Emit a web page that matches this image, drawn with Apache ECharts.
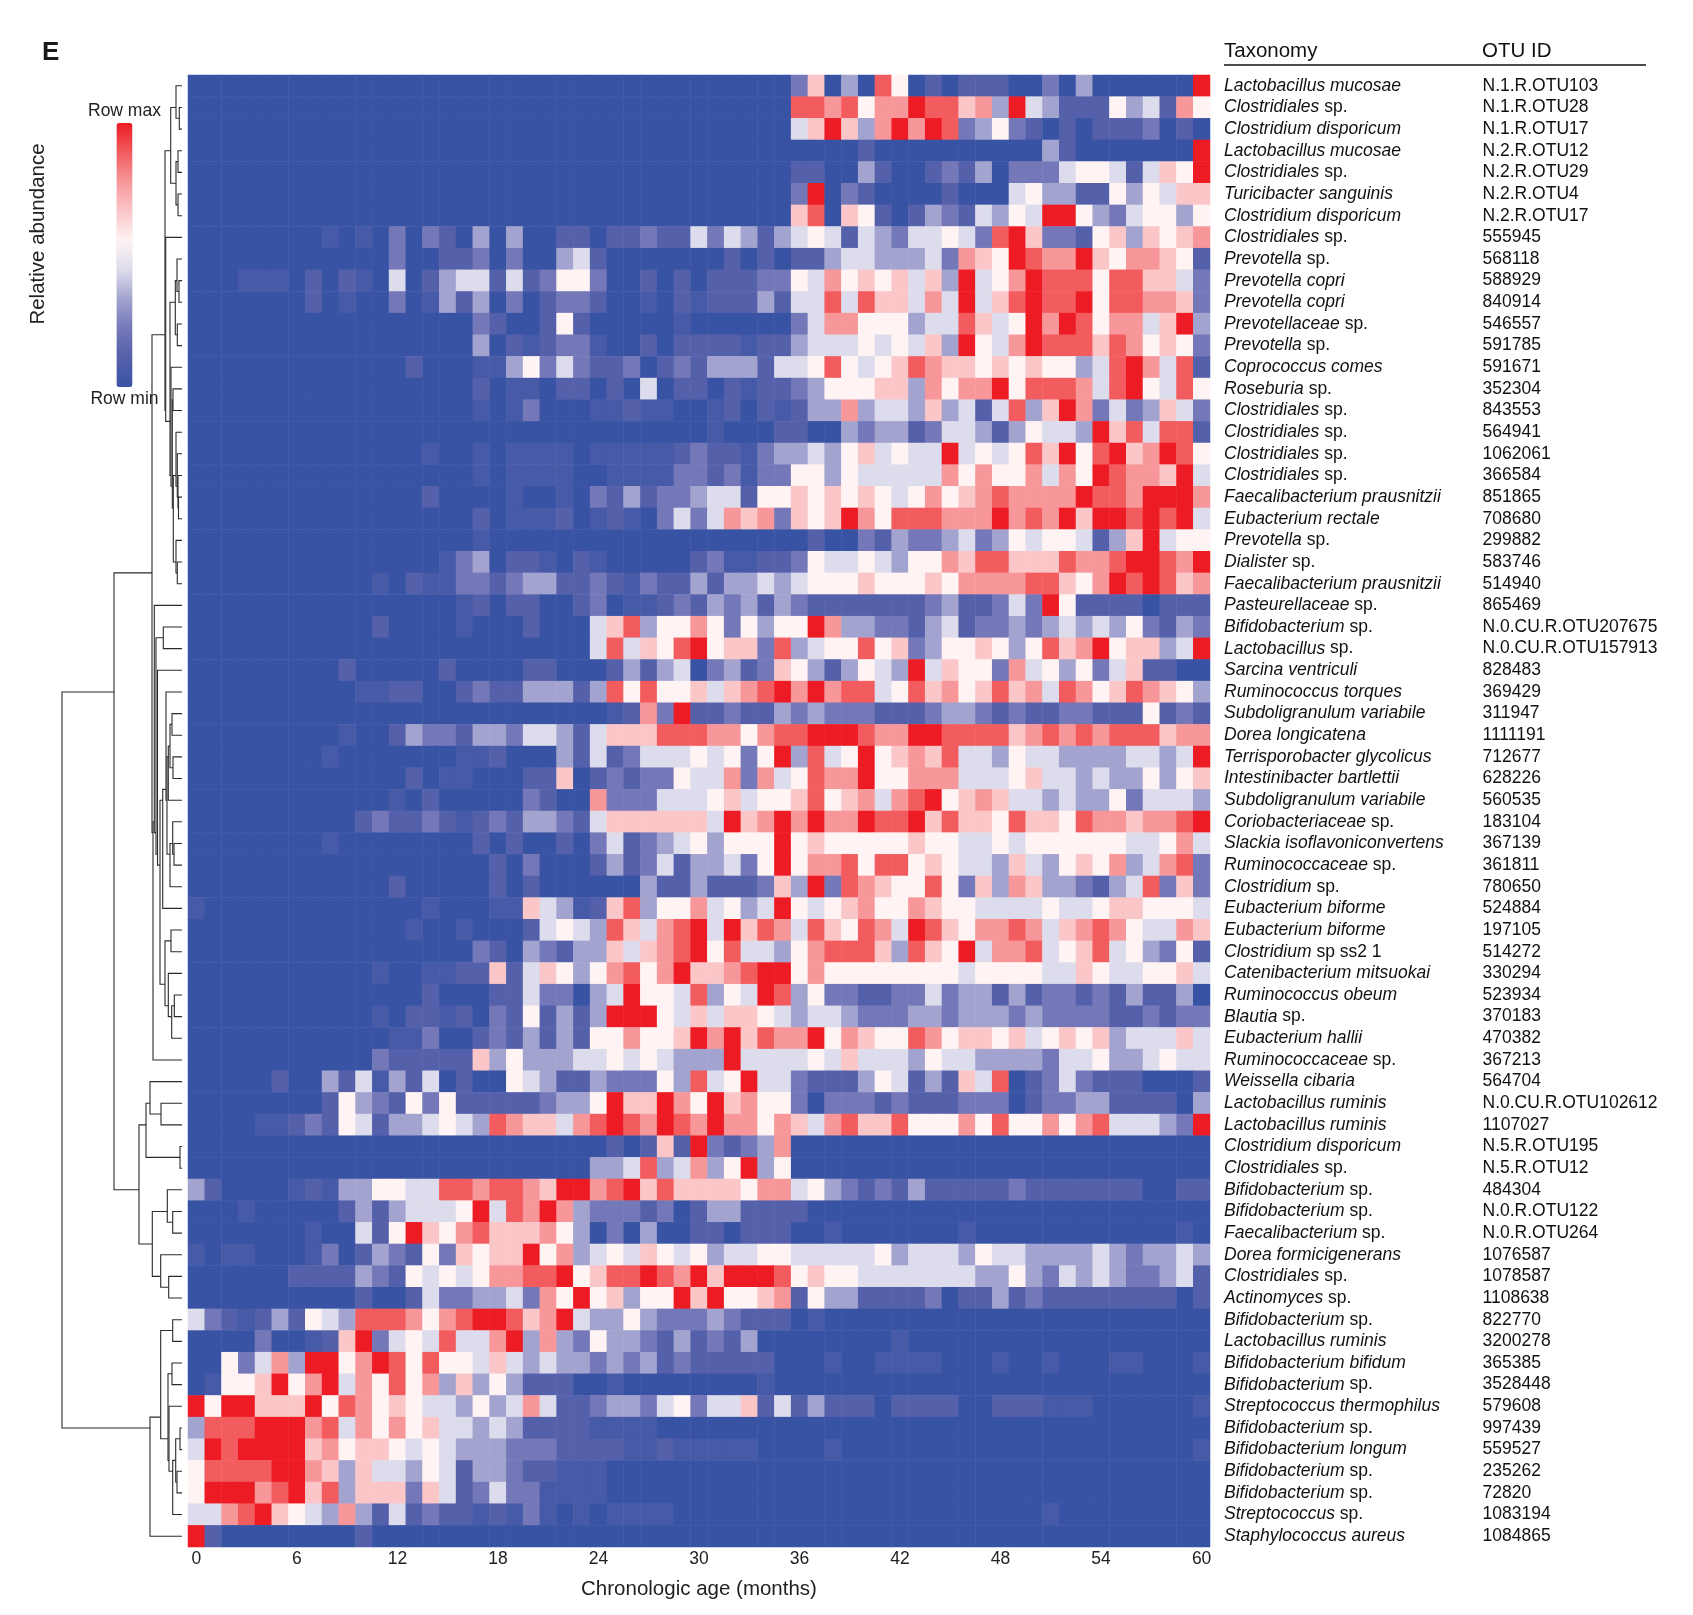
<!DOCTYPE html>
<html><head><meta charset="utf-8">
<style>html,body{margin:0;padding:0;background:#fff}#c{width:1693px;height:1615px}</style>
<script src="https://cdn.jsdelivr.net/npm/echarts@6/dist/echarts.min.js"></script>
</head><body><div id="c"></div>
<script>
const taxonomy = ["Lactobacillus mucosae","Clostridiales sp.","Clostridium disporicum","Lactobacillus mucosae","Clostridiales sp.","Turicibacter sanguinis","Clostridium disporicum","Clostridiales sp.","Prevotella sp.","Prevotella copri","Prevotella copri","Prevotellaceae sp.","Prevotella sp.","Coprococcus comes","Roseburia sp.","Clostridiales sp.","Clostridiales sp.","Clostridiales sp.","Clostridiales sp.","Faecalibacterium prausnitzii","Eubacterium rectale","Prevotella sp.","Dialister sp.","Faecalibacterium prausnitzii","Pasteurellaceae sp.","Bifidobacterium sp.","Lactobacillus sp.","Sarcina ventriculi","Ruminococcus torques","Subdoligranulum variabile","Dorea longicatena","Terrisporobacter glycolicus","Intestinibacter bartlettii","Subdoligranulum variabile","Coriobacteriaceae sp.","Slackia isoflavoniconvertens","Ruminococcaceae sp.","Clostridium sp.","Eubacterium biforme","Eubacterium biforme","Clostridium sp ss2 1","Catenibacterium mitsuokai","Ruminococcus obeum","Blautia sp.","Eubacterium hallii","Ruminococcaceae sp.","Weissella cibaria","Lactobacillus ruminis","Lactobacillus ruminis","Clostridium disporicum","Clostridiales sp.","Bifidobacterium sp.","Bifidobacterium sp.","Faecalibacterium sp.","Dorea formicigenerans","Clostridiales sp.","Actinomyces sp.","Bifidobacterium sp.","Lactobacillus ruminis","Bifidobacterium bifidum","Bifidobacterium sp.","Streptococcus thermophilus","Bifidobacterium sp.","Bifidobacterium longum","Bifidobacterium sp.","Bifidobacterium sp.","Streptococcus sp.","Staphylococcus aureus"];
const otuIds = ["N.1.R.OTU103","N.1.R.OTU28","N.1.R.OTU17","N.2.R.OTU12","N.2.R.OTU29","N.2.R.OTU4","N.2.R.OTU17","555945","568118","588929","840914","546557","591785","591671","352304","843553","564941","1062061","366584","851865","708680","299882","583746","514940","865469","N.0.CU.R.OTU207675","N.0.CU.R.OTU157913","828483","369429","311947","1111191","712677","628226","560535","183104","367139","361811","780650","524884","197105","514272","330294","523934","370183","470382","367213","564704","N.0.CU.R.OTU102612","1107027","N.5.R.OTU195","N.5.R.OTU12","484304","N.0.R.OTU122","N.0.R.OTU264","1076587","1078587","1108638","822770","3200278","365385","3528448","579608","997439","559527","235262","72820","1083194","1084865"];
const months = [0,1,2,3,4,5,6,7,8,9,10,11,12,13,14,15,16,17,18,19,20,21,22,23,24,25,26,27,28,29,30,31,32,33,34,35,36,37,38,39,40,41,42,43,44,45,46,47,48,49,50,51,52,53,54,55,56,57,58,59,60];

// abundance levels per taxon, one value per month (0 = row min, 9 = row max)
const r01=[0,0,0,0,0,0,0,0,0,0,0,0,0,0,0,0,0,0, 0,0,0,0,0,0,0,0,0,0,0,0,0,0,0,0,0,0, 2,6,0,3,0,8,5,0,1,0,1,1,1,0,0,2,0,3,0,0,0,0,0,0,9];
const r02=[0,0,0,0,0,0,0,0,0,0,0,0,0,0,0,0,0,0, 0,0,0,0,0,0,0,0,0,0,0,0,0,0,0,0,0,0, 8,8,7,8,5,7,7,9,8,8,6,7,3,9,4,3,1,1,1,5,3,4,1,7,5];
const r03=[0,0,0,0,0,0,0,0,0,0,0,0,0,0,0,0,0,0, 0,0,0,0,0,0,0,0,0,0,0,0,0,0,0,0,0,0, 4,6,9,6,3,7,9,7,9,8,2,3,5,2,1,0,1,0,1,1,1,2,0,1,0];
const r04=[0,0,0,0,0,0,0,0,0,0,0,0,0,0,0,0,0,0, 0,0,0,0,0,0,0,0,0,0,0,0,0,0,0,0,0,0, 0,0,0,0,1,0,0,0,0,0,0,0,0,0,0,3,1,0,0,0,0,0,0,0,9];
const r05=[0,0,0,0,0,0,0,0,0,0,0,0,0,0,0,0,0,0, 0,0,0,0,0,0,0,0,0,0,0,0,0,0,0,0,0,0, 1,1,0,0,3,1,0,0,1,2,1,3,0,2,2,2,4,5,5,4,1,4,6,5,9];
const r06=[0,0,0,0,0,0,0,0,0,0,0,0,0,0,0,0,0,0, 0,0,0,0,0,0,0,0,0,0,0,0,0,0,0,0,0,0, 2,9,0,2,1,0,0,0,0,1,0,0,0,4,5,3,3,1,1,5,3,5,4,6,6];
const r07=[0,0,0,0,0,0,0,0,0,0,0,0,0,0,0,0,0,0, 0,0,0,0,0,0,0,0,0,0,0,0,0,0,0,0,0,0, 6,8,0,6,5,1,0,1,3,2,1,4,3,5,4,9,9,5,3,2,4,5,5,3,5];
const r08=[0,0,0,0,0,0,0,0,.5,0,.5,0,2,0,2,1,0,3, 0,3,0,0,1,1,0,1,1,2,1,1,4,2,4,3,1,3, 4,5,4,1,4,3,2,4,4,5,4,2,8,9,6,2,2,1,5,6,3,6,5,6,7];
const r09=[0,0,0,0,0,0,0,0,0,0,0,0,2,0,0,1,1,2, 0,2,0,0,3,4,1,0,0,0,0,0,0,0,1,0,1,0, 1,1,3,4,4,3,3,3,4,2,7,6,5,9,8,7,7,9,6,5,7,7,6,5,1];
const r10=[0,0,0,.5,.5,.5,0,1,0,1,.5,0,4,0,1,3,4,4, 1,4,1,2,5,5,2,0,0,1,0,1,0,1,1,1,2,2, 5,4,7,5,6,5,6,4,6,3,9,4,5,7,9,8,8,8,5,8,8,6,6,4,2];
const r11=[0,0,0,0,0,0,0,1,0,.5,0,0,2,0,.5,3,1,3, 0,2,0,1,2,2,1,0,0,.5,0,1,.5,1,1,1,3,1, 4,4,8,4,8,6,6,4,7,4,9,4,6,8,9,8,8,9,5,8,8,7,7,6,2];
const r12=[0,0,0,0,0,0,0,0,0,0,0,0,0,0,0,0,0,2, 1,0,0,1,5,1,0,0,0,0,0,.5,0,0,0,0,0,0, 2,4,7,7,5,5,5,3,4,4,8,6,4,5,9,7,9,8,5,7,7,4,6,9,3];
const r13=[0,0,0,0,0,0,0,0,0,0,0,0,0,0,0,0,0,3, 0,1,.5,1,2,2,.5,0,0,1,0,1,1,1,1,.5,1,1, 3,4,4,4,5,4,5,4,6,3,9,5,4,7,9,8,8,8,6,8,7,5,6,5,2];
const r14=[0,0,0,0,0,0,0,0,0,0,0,0,0,1,0,0,0,.5, .5,3,5,2,4,2,1,1,2,0,1,2,1,3,3,3,1,4, 4,5,8,5,4,5,6,8,7,6,6,5,6,5,6,5,5,3,4,8,9,7,4,8,1];
const r15=[0,0,0,0,0,0,0,0,0,0,0,0,0,0,0,0,0,1, 0,.5,.5,0,1,1,0,1,0,4,0,1,1,0,1,.5,1,1, 2,3,5,5,5,6,6,3,7,5,7,7,9,5,8,8,8,7,4,8,9,5,4,8,5];
const r16=[0,0,0,0,0,0,0,0,0,0,0,0,0,0,0,0,0,.5, 0,.5,2,0,0,0,.5,.5,1,.5,.5,0,0,.5,1,0,1,.5, 1,3,3,7,3,4,4,3,6,3,4,1,4,8,3,6,9,7,2,4,2,3,6,4,2];
const r17=[0,0,0,0,0,0,0,0,0,0,0,0,0,0,0,0,0,0, 0,0,0,0,0,0,0,0,0,0,0,0,0,.5,0,0,0,1, 1,0,0,3,2,3,3,1,2,4,4,3,1,3,5,4,4,3,9,6,8,4,8,8,1];
const r18=[0,0,0,0,0,0,0,0,0,0,0,0,0,0,.5,0,0,.5, 0,.5,.5,.5,.5,0,.5,.5,.5,.5,.5,1,2,1,1,.5,2,3, 3,4,3,5,6,4,5,4,4,9,4,5,4,5,8,6,9,5,8,9,6,7,9,8,5];
const r19=[0,0,0,0,0,0,0,0,0,0,0,0,0,0,0,0,0,.5, 0,.5,.5,.5,.5,0,0,.5,.5,.5,.5,2,2,1,2,.5,2,2, 5,5,3,5,4,4,4,4,4,7,5,7,5,5,7,4,7,5,9,8,7,7,6,9,4];
const r20=[0,0,0,0,0,0,0,0,0,0,0,0,0,0,1,0,0,0, 0,.5,0,0,.5,0,2,1,3,1,2,2,3,4,4,1,5,5, 6,5,6,5,6,5,4,5,7,5,6,7,8,7,7,7,7,9,8,8,7,9,9,9,7];
const r21=[0,0,0,0,0,0,0,0,0,0,0,0,0,0,0,0,0,1, 0,.5,.5,.5,1,0,.5,1,.5,0,2,4,2,4,7,6,7,2, 6,5,6,9,7,5,8,8,8,7,7,7,9,7,8,7,9,6,9,9,8,9,8,9,4];
const r22=[0,0,0,0,0,0,0,0,0,0,0,0,0,0,0,0,0,.5, 0,0,0,0,0,0,0,0,0,0,0,0,0,0,0,0,0,0, 0,1,0,0,2,1,3,2,2,3,4,2,3,5,4,5,5,4,1,3,6,9,4,5,5];
const r23=[0,0,0,0,0,0,0,0,0,0,0,0,0,0,0,.5,2,3, 0,1,1,.5,0,1,.5,0,0,0,0,0,1,2,.5,.5,1,1, 2,5,4,4,5,4,3,5,5,7,6,8,8,6,6,6,8,7,7,8,9,9,8,7,9];
const r24=[0,0,0,0,0,0,0,0,0,0,0,.5,0,1,.5,.5,2,2, 1,2,3,3,1,1,2,1,.5,2,1,1,3,1,3,3,4,3, 4,5,5,5,6,5,5,5,6,5,7,7,7,7,8,8,6,5,7,9,8,9,8,6,7];
const r25=[0,0,0,0,0,0,0,0,0,0,0,0,0,0,0,0,.5,1, 0,1,1,0,0,1,2,0,.5,.5,1,2,1,3,2,3,1,3, 2,1,1,1,1,1,1,1,2,3,1,1,2,4,2,9,5,1,1,1,1,0,1,1,1];
const r26=[0,0,0,0,0,0,0,0,0,0,0,1,0,0,0,0,.5,0, 0,0,1,0,0,0,4,6,8,3,5,5,7,5,2,5,3,5, 5,9,7,3,3,2,2,1,3,4,1,2,2,3,2,3,4,3,4,3,5,2,1,3,2];
const r27=[0,0,0,0,0,0,0,0,0,0,0,0,0,0,0,0,0,0, 0,0,0,0,0,0,4,8,4,6,5,8,9,5,6,6,2,8, 3,4,5,5,8,5,6,2,3,5,5,6,5,3,5,8,6,7,9,5,6,6,3,4,9];
const r28=[0,0,0,0,0,0,0,0,0,1,0,0,0,0,0,1,0,0, 0,0,1,1,0,0,0,1,3,1,3,4,0,2,3,1,2,6, 5,3,1,3,5,4,3,9,4,6,5,5,2,7,4,5,3,5,2,4,6,1,1,0,0];
const r29=[0,0,0,0,0,0,0,0,0,0,.5,.5,1,1,0,0,1,2, 1,1,3,3,3,1,3,8,5,8,5,5,6,4,6,7,8,9, 7,9,7,8,8,4,5,8,6,7,5,6,8,6,7,4,8,7,5,6,8,7,6,5,3];
const r30=[0,0,0,0,0,0,0,0,0,0,0,0,0,0,0,0,0,0, 0,0,0,0,0,0,0,.5,1,7,2,9,1,1,2,1,1,3, 2,3,2,2,2,1,1,1,2,3,3,2,1,2,1,1,2,2,1,1,1,5,1,2,1];
const r31=[0,0,0,0,0,0,0,0,0,.5,0,0,1,3,2,2,1,3, 3,2,4,4,3,1,4,6,6,6,8,8,8,7,7,5,7,8, 8,9,9,9,8,7,7,9,9,8,8,8,8,6,7,8,7,8,7,8,8,8,6,7,7];
const r32=[0,0,0,0,0,0,0,0,.5,0,0,0,0,0,0,0,.5,.5, 1,0,0,0,3,1,4,1,2,4,4,4,5,4,5,2,5,9, 3,8,4,5,9,5,6,7,6,8,4,4,3,5,4,4,3,3,3,3,4,4,3,4,9];
const r33=[0,0,0,0,0,0,0,0,0,0,0,0,0,1,0,.5,.5,0, 0,0,1,1,6,0,1,2,1,2,2,5,4,4,7,2,7,4, 5,8,7,7,9,5,5,7,7,7,4,4,4,5,6,4,4,3,4,3,3,5,3,5,6];
const r34=[0,0,0,0,0,0,0,0,0,0,0,0,.5,0,1,0,0,0, 0,0,2,1,0,0,7,2,2,2,4,4,4,5,6,4,5,5, 6,8,5,6,7,4,7,8,9,5,6,7,6,4,4,3,4,3,3,5,2,4,4,4,3];
const r35=[0,0,0,0,0,0,0,0,0,0,1,2,1,1,2,1,.5,1, 2,1,3,3,2,1,4,6,6,6,6,6,6,4,9,6,7,9, 7,9,7,7,9,8,8,9,6,8,6,6,5,8,6,6,5,8,7,7,6,7,7,8,9];
const r36=[0,0,0,0,0,0,0,0,.5,0,0,0,0,0,0,0,0,1, 0,1,0,0,1,0,2,4,1,2,3,4,5,3,5,5,5,9, 5,6,5,5,5,5,5,6,5,5,4,4,5,4,5,5,5,5,5,5,4,4,5,7,4];
const r37=[0,0,0,0,0,0,0,0,0,0,0,0,0,0,0,0,0,0, 1,0,2,0,0,0,1,3,1,2,4,1,3,3,4,2,5,9, 5,7,7,8,5,8,8,5,6,5,4,4,3,6,4,3,5,6,5,7,3,4,7,8,2];
const r38=[0,0,0,0,0,0,0,0,0,0,0,0,1,0,0,0,0,0, 1,0,1,0,0,0,0,0,0,3,1,1,3,1,1,1,2,6, 3,9,2,8,7,6,5,5,8,5,2,6,3,7,6,3,3,2,1,3,4,8,2,6,2];
const r39=[.5,0,0,0,0,0,0,0,0,0,0,0,0,0,.5,0,0,0, .5,.5,6,4,3,.5,1,6,8,3,5,5,7,4,5,3,4,9, 5,4,5,6,7,5,5,7,6,5,5,4,4,4,4,5,4,4,5,6,6,5,5,5,4];
const r40=[0,0,0,0,0,0,0,0,0,0,0,0,0,.5,0,0,.5,0, 0,0,1,4,5,4,3,8,6,4,7,8,9,4,9,6,8,7, 4,8,6,5,8,7,4,9,8,6,5,7,7,8,7,4,6,7,8,7,5,4,4,7,6];
const r41=[0,0,0,0,0,0,0,0,0,0,0,0,0,0,0,0,0,2, 1,0,3,2,1,3,3,6,4,6,7,8,9,5,8,4,4,3, 5,7,8,8,8,6,3,8,6,5,9,4,7,7,8,4,5,6,8,4,5,3,2,5,1];
const r42=[0,0,0,0,0,0,0,0,0,0,0,.5,0,0,.5,.5,1,1, 6,1,4,6,5,3,5,7,8,5,7,9,6,6,7,8,9,9, 5,7,5,5,5,5,5,5,5,5,4,5,5,5,5,4,4,6,5,4,4,5,5,6,4];
const r43=[0,0,0,0,0,0,0,0,0,0,0,0,0,0,1,0,0,0, 1,1,4,2,2,0,3,4,9,5,5,4,8,3,5,4,9,8, 3,5,2,2,1,1,2,2,4,2,3,3,1,3,1,2,2,1,2,1,3,1,1,3,0];
const r44=[0,0,0,0,0,0,0,0,0,0,0,.5,0,1,1,.5,1,0, 2,1,5,1,3,1,3,9,9,9,5,4,6,4,6,6,5,4, 3,4,4,3,2,2,2,3,3,2,3,3,3,2,3,2,2,2,2,1,1,2,1,2,2];
const r45=[0,0,0,0,0,0,0,0,0,0,0,0,.5,.5,2,0,0,1, 2,1,3,1,3,1,5,5,7,5,5,6,9,7,9,6,8,7, 7,9,5,7,6,5,5,8,7,5,6,6,5,6,4,5,6,5,6,3,4,4,4,6,4];
const r46=[0,0,0,0,0,0,0,0,0,0,0,2,1,1,1,1,1,6, 3,5,3,3,3,4,4,5,4,5,4,3,3,3,9,4,4,4, 4,5,4,6,4,4,4,3,5,4,4,3,3,3,3,2,4,4,5,3,3,4,5,4,4];
const r47=[0,0,0,0,0,1,0,0,3,1,4,.5,3,1,4,0,1,0, 0,5,4,3,1,1,3,2,2,2,5,3,8,4,5,9,4,4, 2,1,1,1,3,5,4,1,3,1,6,4,8,0,1,2,4,2,1,1,1,0,0,0,1];
const r48=[0,0,0,0,0,0,0,0,1,5,3,2,1,5,2,5,1,1, 1,1,1,2,3,3,5,9,6,6,9,7,5,9,6,7,5,5, 2,0,2,2,2,1,2,1,1,1,2,2,2,0,1,2,2,3,3,1,1,1,1,0,3];
const r49=[0,0,0,0,.5,.5,1,2,1,5,4,1,3,3,4,5,4,3, 8,7,6,6,4,7,8,9,8,7,9,8,7,9,7,7,5,7, 6,4,7,8,6,6,8,5,5,5,7,5,8,5,5,7,5,7,8,4,4,4,3,2,9];
const r50=[0,0,0,0,0,0,0,0,0,0,0,0,0,0,0,0,0,0, 0,0,0,0,0,0,0,1,0,1,6,1,9,2,1,2,3,7, 0,0,0,0,0,0,0,0,0,0,0,0,0,0,0,0,0,0,0,0,0,0,0,0,0];
const r51=[0,0,0,0,0,0,0,0,0,0,0,0,0,0,0,0,0,0, 0,0,0,0,0,0,3,3,4,8,3,4,7,3,5,9,3,5, 0,0,0,0,0,0,0,0,0,0,0,0,0,0,0,0,0,0,0,0,0,0,0,0,0];
const r52=[3,1,0,0,0,0,.5,1,.5,3,3,5,5,4,4,8,8,7, 8,8,7,6,9,9,7,8,9,6,8,6,6,6,6,5,7,7, 4,5,3,2,1,2,1,3,1,1,1,1,1,2,1,1,1,1,1,1,1,0,0,1,1];
const r53=[0,0,0,.5,0,0,0,0,0,1,3,1,3,4,4,4,5,9, 4,8,7,9,7,3,2,2,2,1,2,0,1,3,3,1,1,1, 1,0,0,0,0,0,0,0,0,0,0,0,0,0,0,0,0,0,0,0,0,0,0,0,0];
const r54=[0,0,0,0,0,0,0,.5,0,0,4,1,5,9,6,5,7,8, 6,6,6,7,5,3,0,2,0,3,0,0,1,1,0,1,1,1, 0,0,.5,0,0,0,0,0,0,0,.5,0,0,0,0,0,0,0,0,0,0,0,0,.5,0];
const r55=[.5,0,.5,.5,0,0,0,.5,2,0,1,3,2,1,5,2,6,5, 6,6,9,5,7,3,4,5,4,6,5,4,5,3,4,4,5,5, 4,4,4,4,4,5,3,4,4,4,3,5,4,4,3,3,3,3,4,3,2,3,3,4,3];
const r56=[0,0,0,0,0,0,1,1,1,1,3,2,1,5,4,5,4,5, 7,7,8,8,9,5,6,8,8,9,8,7,9,6,9,9,9,8, 5,6,5,5,4,4,4,4,4,4,4,3,3,5,3,2,4,3,4,3,2,2,3,4,1];
const r57=[0,0,0,0,0,0,0,0,0,0,1,0,0,1,4,2,2,3, 3,4,2,7,5,9,5,6,3,5,5,9,6,9,5,5,6,7, 1,5,3,3,1,1,1,1,2,0,1,1,3,1,2,1,1,1,1,1,1,1,1,0,1];
const r58=[4,2,1,.5,1,3,1,5,4,3,8,8,8,7,5,7,8,9, 9,8,6,7,9,4,3,3,5,3,2,2,2,3,2,1,1,1, 0,.5,0,0,0,0,0,0,0,0,0,0,0,0,0,0,0,0,0,0,0,0,0,0,0];
const r59=[0,0,0,0,2,0,0,.5,1,6,9,2,4,5,4,8,4,4, 7,9,3,7,3,2,5,3,3,2,1,3,1,2,1,3,0,0, 0,0,0,0,0,0,.5,0,0,0,0,0,0,0,0,0,0,0,0,0,0,0,0,0,0];
const r60=[0,0,5,2,4,7,3,9,9,5,7,9,8,5,8,5,5,4, 6,4,3,4,3,3,2,3,2,3,1,2,1,1,1,1,1,0, 0,0,.5,0,0,.5,.5,.5,.5,0,0,0,.5,0,0,.5,0,0,0,.5,.5,0,0,0,.5];
const r61=[0,.5,5,5,6,9,5,7,9,4,7,5,8,5,7,3,6,3, 5,3,1,1,1,0,0,.5,0,0,0,0,0,0,0,0,.5,0, 0,0,0,0,0,0,0,0,0,0,0,0,0,0,0,0,0,0,0,0,0,0,0,0,0];
const r62=[9,5,9,9,6,6,6,9,5,8,7,5,6,5,4,4,3,5, 3,4,7,4,1,1,2,3,3,2,4,5,2,4,4,6,1,4, 1,3,1,1,1,0,1,1,1,1,0,0,1,1,1,.5,.5,.5,0,0,0,0,0,0,.5];
const r63=[3,8,8,8,9,9,9,7,8,4,7,5,7,5,6,4,4,3, 4,3,1,1,1,1,.5,.5,.5,.5,0,0,0,0,0,0,0,0, 0,0,0,0,0,0,0,0,0,0,0,0,0,0,0,0,0,0,0,0,0,0,0,0,0];
const r64=[4,9,8,9,9,9,9,6,7,5,6,6,5,4,5,4,3,3, 3,2,2,2,1,1,1,1,.5,.5,1,.5,.5,.5,.5,.5,0,0, 0,0,.5,0,0,0,0,0,0,0,0,0,0,0,0,0,0,0,0,0,0,0,0,0,.5];
const r65=[5,8,8,8,8,9,9,7,6,3,6,4,4,3,5,4,1,3, 3,2,1,1,.5,.5,.5,0,0,0,0,0,0,0,0,0,0,0, 0,0,0,0,0,0,0,0,0,0,0,0,0,0,0,0,0,0,0,0,0,0,0,0,0];
const r66=[5,9,9,9,7,8,9,6,8,3,6,6,6,2,6,4,1,2, 4,2,2,.5,.5,.5,.5,0,0,0,0,0,0,0,0,0,0,0, 0,0,0,0,0,0,0,0,0,0,0,0,0,0,0,0,0,0,0,0,0,0,0,0,0];
const r67=[4,4,7,8,9,6,5,4,3,7,3,1,4,1,2,1,1,.5, 1,.5,2,.5,0,.5,0,.5,.5,.5,.5,0,0,0,0,0,0,0, 0,0,0,0,0,0,0,0,0,0,0,0,0,0,0,.5,0,0,0,0,0,0,0,0,0];
const r68=[9,1,0,0,0,0,0,0,0,0,1,0,0,0,0,0,0,0, 0,0,0,0,0,0,0,0,0,0,0,0,0,0,0,0,0,0, 0,0,0,0,0,0,0,0,0,0,0,0,0,0,0,0,0,0,0,0,0,0,0,0,0];
const rows=[r01,r02,r03,r04,r05,r06,r07,r08,r09,r10,r11,r12,r13,r14,r15,r16,r17,r18,r19,r20,r21,r22,r23,r24,r25,r26,r27,r28,r29,r30,r31,r32,r33,r34,r35,r36,r37,r38,r39,r40,r41,r42,r43,r44,r45,r46,r47,r48,r49,r50,r51,r52,r53,r54,r55,r56,r57,r58,r59,r60,r61,r62,r63,r64,r65,r66,r67,r68];

// row clustering: [merge height, child, child]; a number is a row (1-based)
const treeTop=[17,[11.3,[6,1,[2.7,2,3]],[6,[4,4,5],[4,6,7]]],
 [16.3,8,[12,[6.7,[5,9,[3,10,11]],[4.7,12,13]],
  [11,14,[9.7,[9,15,16],[8.7,[6,17,[4.7,18,[4,19,[3.5,20,21]]]],[6,22,[4.7,23,24]]]]]]]];
const treeGut=[29,[27.7,25,[26,[18.7,26,27],[24.5,28,
  [22,[19.3,[16,29,[15,[13.7,[12,[10,30,31],[9,32,33]],34],[12,[9.3,35,[8,36,37]],38]]],39],
      [17,[11,40,41],[13.7,42,[10.3,[7.7,43,44],45]]]]]]],46];
const treeMid=[43,[36,[32,47,[21,48,49]],[2,50,51]],[29.7,[14.7,52,[9.3,53,54]],[21.3,55,[13.3,56,57]]]];
const treeLow=[32,[21.3,[9.3,58,59],[14,[10,60,61],[13,62,[9.3,[6.3,[2,63,64],[5,65,66]],67]]]],68];
const treeRoot=[120,[68,[30,treeTop,treeGut],treeMid],treeLow];

const heatData=[];
rows.forEach((row,y)=>row.forEach((v,x)=>heatData.push([x,y,v])));

const brackets=[];
function walk(n){
  if(typeof n==='number') return {h:0,leaves:[n-.5]};
  const a=walk(n[1]), b=walk(n[2]);
  const ya=a.leaves.reduce((s,v)=>s+v,0)/a.leaves.length;
  const yb=b.leaves.reduce((s,v)=>s+v,0)/b.leaves.length;
  brackets.push([a.h,ya,n[0],yb,b.h]);
  return {h:n[0],leaves:a.leaves.concat(b.leaves)};
}
walk(treeRoot);

const FONT='"Liberation Sans",Arial,sans-serif';
const colors=['#3953a4','#5560aa','#7478b8','#a3a3cf','#dcdcec','#fff3f3','#fbc6c8','#f79799','#f25c5f','#ed1c24'];
const LABEL=17.5;

const chart=echarts.init(document.getElementById('c'),null,{renderer:'canvas'});
chart.setOption({
  animation:false,
  backgroundColor:'#fff',
  textStyle:{fontFamily:FONT},
  grid:[
    {left:188,top:75,width:1022,height:1472,containLabel:false},
    {left:62,top:75,width:120,height:1472,containLabel:false}
  ],
  xAxis:[
    {type:'category',gridIndex:0,data:months,position:'bottom',
     axisLine:{show:false},axisTick:{show:false},splitLine:{show:false},
     axisLabel:{interval:(i)=>i%6===0,margin:3,fontSize:17.5,color:'#222',fontFamily:FONT},
     name:'Chronologic age (months)',nameLocation:'middle',nameGap:32,
     nameTextStyle:{fontSize:20.5,color:'#222',fontFamily:FONT}},
    {type:'value',gridIndex:1,min:0,max:120,inverse:true,show:false}
  ],
  yAxis:[
    {type:'category',gridIndex:0,data:taxonomy,inverse:true,position:'right',
     axisLine:{show:false},axisTick:{show:false},splitLine:{show:false},
     axisLabel:{interval:0,margin:14,align:'left',fontSize:LABEL,color:'#111',fontFamily:FONT,
       formatter:(v)=>{const m=v.match(/^(.*?) (sp\b.*)$/);return m?`{i|${m[1]}} {n|${m[2]}}`:`{i|${v}}`;},
       rich:{i:{fontStyle:'italic',fontSize:LABEL,color:'#111',fontFamily:FONT},n:{fontSize:LABEL,color:'#111',fontFamily:FONT}}}},
    {type:'category',gridIndex:0,data:otuIds,inverse:true,position:'right',
     axisLine:{show:false},axisTick:{show:false},splitLine:{show:false},
     axisLabel:{interval:0,margin:272.5,align:'left',fontSize:LABEL,color:'#111',fontFamily:FONT}},
    {type:'value',gridIndex:1,min:0,max:68,inverse:true,show:false}
  ],
  visualMap:{type:'continuous',seriesIndex:0,min:0,max:9,calculable:false,hoverLink:false,
    orient:'vertical',left:73,top:87,itemWidth:16,itemHeight:264,text:['Row max','Row min'],textGap:3,
    textStyle:{fontSize:17.5,color:'#222',fontFamily:FONT},inRange:{color:colors}},
  series:[
    {type:'heatmap',xAxisIndex:0,yAxisIndex:0,data:heatData,silent:true,progressive:0,
     itemStyle:{borderWidth:0},emphasis:{disabled:true}},
    {type:'custom',xAxisIndex:1,yAxisIndex:2,data:brackets,silent:true,clip:false,
     encode:{x:[0,2,4],y:[1,3]},
     renderItem:(p,api)=>{
       const p1=api.coord([api.value(0),api.value(1)]);
       const p2=api.coord([api.value(2),api.value(1)]);
       const p3=api.coord([api.value(2),api.value(3)]);
       const p4=api.coord([api.value(4),api.value(3)]);
       return {type:'polyline',shape:{points:[p1,p2,p3,p4]},style:{stroke:'#2b2b2b',lineWidth:1.1,fill:null}};
     }}
  ],
  graphic:[
    {type:'text',left:42,top:40,style:{text:'E',font:'bold 26px '+FONT,fill:'#1a1a1a'}},
    {type:'text',x:38,y:234,rotation:Math.PI/2,style:{text:'Relative abundance',font:'20.5px '+FONT,fill:'#222',align:'center',verticalAlign:'middle'}},
    {type:'text',x:1224,y:51,style:{text:'Taxonomy',font:'20.5px '+FONT,fill:'#111',verticalAlign:'middle'}},
    {type:'text',x:1482,y:51,style:{text:'OTU ID',font:'20.5px '+FONT,fill:'#111',verticalAlign:'middle'}},
    {type:'line',shape:{x1:1224,y1:65,x2:1646,y2:65},style:{stroke:'#111',lineWidth:1.5}}
  ]
});
</script></body></html>
